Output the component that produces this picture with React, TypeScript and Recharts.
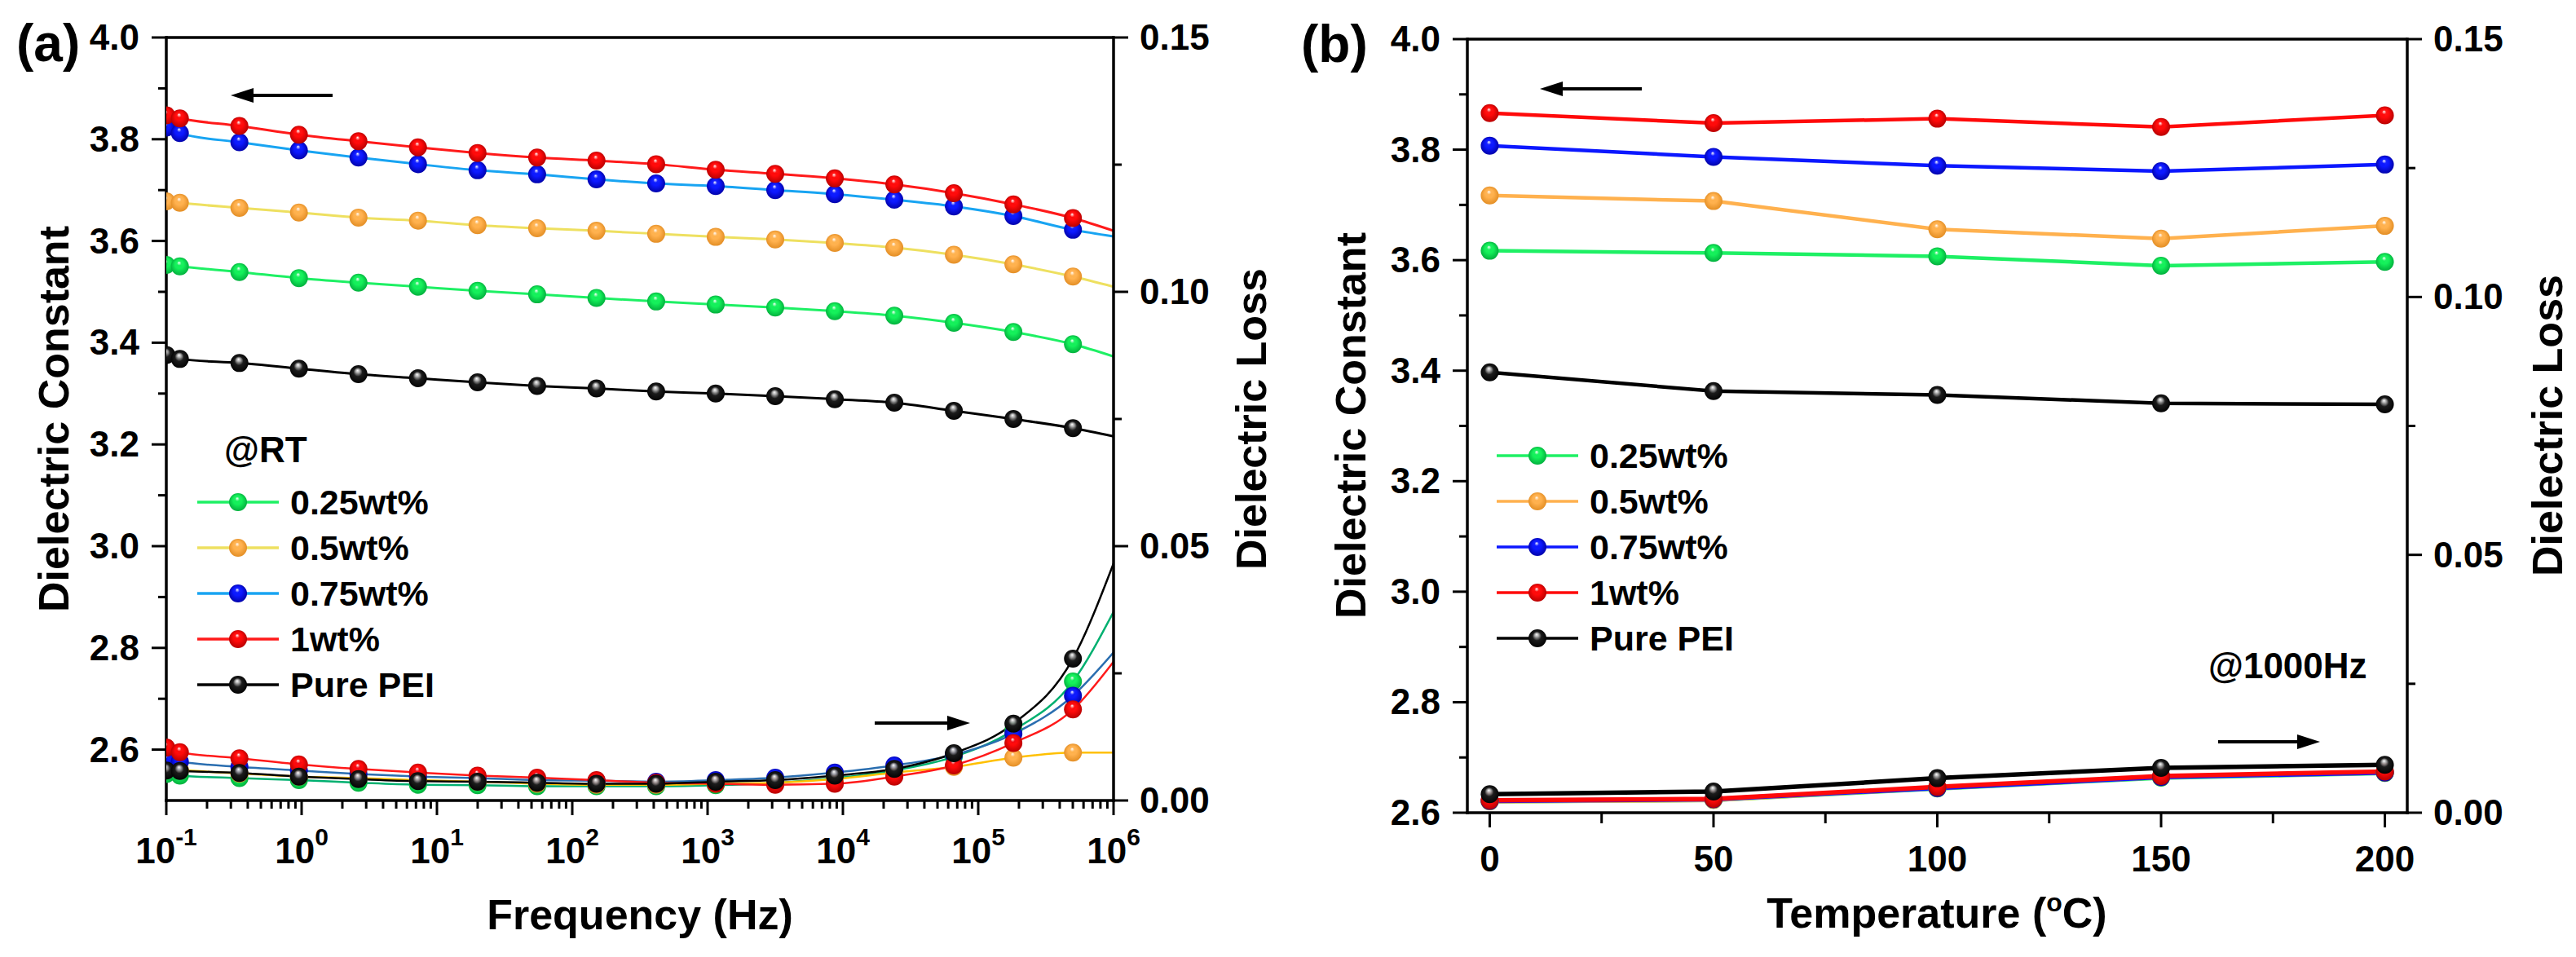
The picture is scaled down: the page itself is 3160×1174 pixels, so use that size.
import React from 'react';
import { LineChart, Line, XAxis, YAxis, ReferenceLine } from 'recharts';

const FONT = '"Liberation Sans", Arial, Helvetica, sans-serif';

// ---------- (a) frequency sweep at room temperature ----------
// last entry is the end of the sweep (drawn without a symbol)
const freqHz = [0.1, 0.126, 0.347, 0.955, 2.63, 7.24, 19.95, 55, 151, 417, 1148, 3162, 8710, 23990, 66070, 181970, 501190, 1000000];

const epsRT025 = [3.553, 3.55, 3.539, 3.527, 3.518, 3.51, 3.502, 3.495, 3.488, 3.481, 3.475, 3.469, 3.462, 3.453, 3.439, 3.421, 3.397, 3.373];
const epsRT05 = [3.678, 3.675, 3.665, 3.656, 3.646, 3.64, 3.631, 3.625, 3.62, 3.614, 3.608, 3.603, 3.596, 3.587, 3.573, 3.554, 3.53, 3.51];
const epsRT075 = [3.823, 3.812, 3.794, 3.778, 3.764, 3.751, 3.739, 3.731, 3.721, 3.713, 3.708, 3.7, 3.692, 3.681, 3.668, 3.649, 3.622, 3.609];
const epsRT1 = [3.847, 3.841, 3.826, 3.809, 3.796, 3.784, 3.773, 3.764, 3.758, 3.751, 3.74, 3.732, 3.723, 3.711, 3.694, 3.672, 3.645, 3.62];
const epsRTPEI = [3.376, 3.368, 3.36, 3.349, 3.338, 3.33, 3.322, 3.315, 3.31, 3.304, 3.3, 3.295, 3.289, 3.282, 3.266, 3.25, 3.232, 3.216];

const lossRT025 = [0.0052, 0.0049, 0.0044, 0.004, 0.0035, 0.0031, 0.003, 0.0028, 0.0028, 0.0028, 0.003, 0.0035, 0.0044, 0.0059, 0.0086, 0.0138, 0.0234, 0.0371];
const lossRT05 = [0.0062, 0.006, 0.0053, 0.0047, 0.0044, 0.004, 0.0037, 0.0033, 0.0031, 0.0031, 0.0033, 0.0035, 0.0042, 0.0055, 0.0066, 0.0084, 0.0094, 0.0094];
const lossRT075 = [0.008, 0.0076, 0.0066, 0.0059, 0.0052, 0.0047, 0.0044, 0.004, 0.0039, 0.0037, 0.004, 0.0045, 0.0055, 0.0069, 0.009, 0.0131, 0.0206, 0.0291];
const lossRT1 = [0.0104, 0.0095, 0.0083, 0.0071, 0.0062, 0.0055, 0.0049, 0.0045, 0.004, 0.0035, 0.0033, 0.0031, 0.0033, 0.0047, 0.0069, 0.0113, 0.0179, 0.0273];
const lossRTPEI = [0.0059, 0.0058, 0.0054, 0.0047, 0.0042, 0.0038, 0.0037, 0.0035, 0.0033, 0.0033, 0.0037, 0.004, 0.0049, 0.0062, 0.0093, 0.0151, 0.0279, 0.0466];

// ---------- (b) temperature sweep at 1000 Hz ----------
const tempC = [0, 50, 100, 150, 200];

const epsT025 = [3.617, 3.613, 3.607, 3.59, 3.597];
const epsT05 = [3.717, 3.707, 3.656, 3.639, 3.662];
const epsT075 = [3.807, 3.787, 3.771, 3.761, 3.773];
const epsT1 = [3.866, 3.848, 3.856, 3.841, 3.862];
const epsTPEI = [3.397, 3.363, 3.356, 3.341, 3.339];

const lossT025 = [0.0022, 0.0025, 0.0047, 0.0068, 0.0077];
const lossT05 = [0.0022, 0.0025, 0.0048, 0.0069, 0.0078];
const lossT075 = [0.0023, 0.0026, 0.0048, 0.0069, 0.0078];
const lossT1 = [0.0024, 0.0027, 0.005, 0.0071, 0.008];
const lossTPEI = [0.0036, 0.0041, 0.0067, 0.0087, 0.0093];

// ---------- series + axis labels ----------
const seriesNames = ['0.25wt%', '0.5wt%', '0.75wt%', '1wt%', 'Pure PEI'];
const epsRT = [epsRT025, epsRT05, epsRT075, epsRT1, epsRTPEI];
const lossRT = [lossRT025, lossRT05, lossRT075, lossRT1, lossRTPEI];
const epsT = [epsT025, epsT05, epsT075, epsT1, epsTPEI];
const lossT = [lossT025, lossT05, lossT075, lossT1, lossTPEI];

const freqExponents = [-1, 0, 1, 2, 3, 4, 5, 6];
const epsTicks = [2.6, 2.7, 2.8, 2.9, 3.0, 3.1, 3.2, 3.3, 3.4, 3.5, 3.6, 3.7, 3.8, 3.9, 4.0];
const epsLabels = ['2.6', '2.8', '3.0', '3.2', '3.4', '3.6', '3.8', '4.0'];
const lossTicks = [0, 0.025, 0.05, 0.075, 0.1, 0.125, 0.15];
const lossLabels = ['0.00', '0.05', '0.10', '0.15'];
const tempTicks = [0, 25, 50, 75, 100, 125, 150, 175, 200];
const tempLabels = ['0', '50', '100', '150', '200'];

// symbol colours (sphere base / rim) and line colours
const ballBase = ['#14f05a', '#ffb14e', '#0c18ff', '#ff0a0a', '#1c1c1c'];
const ballRim = ['#00a83a', '#e08a20', '#0000a0', '#b00000', '#000000'];
const epsLineRT = ['#1ef064', '#eee060', '#18a4f2', '#ff1a1a', '#000000'];
const lossLineRT = ['#00b070', '#ffc000', '#2a6eb0', '#ff1a1a', '#000000'];
const lineT = ['#1ef064', '#ffb14e', '#0c18ff', '#ff0a0a', '#000000'];

const freqMinor: number[] = [];
freqExponents.slice(0, -1).forEach((e) => {
  for (let k = 2; k <= 9; k++) freqMinor.push(k * Math.pow(10, e));
});
const freqTicks = [...freqExponents.map((e) => Math.pow(10, e)), ...freqMinor].sort((a, b) => a - b);

const rowsRT = freqHz.map((f, i) => {
  const row: Record<string, number> = { f };
  seriesNames.forEach((_, k) => {
    row[`e${k}`] = epsRT[k][i];
    row[`l${k}`] = lossRT[k][i];
  });
  return row;
});

const rowsT = tempC.map((t, i) => {
  const row: Record<string, number> = { t };
  seriesNames.forEach((_, k) => {
    row[`e${k}`] = epsT[k][i];
    row[`l${k}`] = lossT[k][i];
  });
  return row;
});

const MAJOR = 18;
const MINOR = 10;
const TICK_W = 3;
const AXIS = { stroke: '#000', strokeWidth: 3.5, strokeLinecap: 'square' as const };
const txt = { fontFamily: FONT, fontWeight: 700, fill: '#000' };

const near = (a: number, b: number) => Math.abs(a - b) < 1e-6;

const leftTick = (labels: string[]) => (p: any) => {
  const { x, y, payload } = p;
  const lab = labels.find((s) => near(parseFloat(s), payload.value));
  return (
    <g>
      <line x1={x} y1={y} x2={x - (lab ? MAJOR : MINOR)} y2={y} stroke="#000" strokeWidth={TICK_W} />
      {lab && (
        <text x={x - 33} y={y + 15} textAnchor="end" fontSize={44} {...txt}>{lab}</text>
      )}
    </g>
  );
};

const rightTick = (labels: string[]) => (p: any) => {
  const { x, y, payload } = p;
  const lab = labels.find((s) => near(parseFloat(s), payload.value));
  return (
    <g>
      <line x1={x} y1={y} x2={x + (lab ? MAJOR : MINOR)} y2={y} stroke="#000" strokeWidth={TICK_W} />
      {lab && (
        <text x={x + 32} y={y + 15} textAnchor="start" fontSize={44} {...txt}>{lab}</text>
      )}
    </g>
  );
};

const freqTick = (p: any) => {
  const { x, y, payload } = p;
  const lg = Math.log10(payload.value);
  const e = freqExponents.find((n) => Math.abs(n - lg) < 1e-6);
  const major = e !== undefined;
  return (
    <g>
      <line x1={x} y1={y} x2={x} y2={y + (major ? MAJOR : MINOR)} stroke="#000" strokeWidth={TICK_W} />
      {major && (
        <text x={x} y={y + 77} textAnchor="middle" fontSize={44} {...txt}>
          10<tspan dy={-22} fontSize={30}>{String(e)}</tspan>
        </text>
      )}
    </g>
  );
};

const tempTick = (p: any) => {
  const { x, y, payload } = p;
  const lab = tempLabels.find((s) => near(parseFloat(s), payload.value));
  return (
    <g>
      <line x1={x} y1={y} x2={x} y2={y + (lab ? MAJOR : 13)} stroke="#000" strokeWidth={TICK_W} />
      {lab && (
        <text x={x} y={y + 72} textAnchor="middle" fontSize={44} {...txt}>{lab}</text>
      )}
    </g>
  );
};

// shaded sphere symbol; the sweep end point gets none
const ball = (k: number, r: number, skip: number) => (p: any) => {
  const { cx, cy, index } = p;
  if (index === skip || cx == null || cy == null) return <g key={`b${k}-${index}`} />;
  return <circle key={`b${k}-${index}`} cx={cx} cy={cy} r={r} fill={`url(#ball${k})`} />;
};

function Arrow({ x1, x2, y }: { x1: number; x2: number; y: number }) {
  const dir = x2 > x1 ? 1 : -1;
  const base = x2 - dir * 28;
  return (
    <g>
      <line x1={x1} y1={y} x2={base} y2={y} stroke="#000" strokeWidth={4} />
      <polygon points={`${x2},${y} ${base},${y - 9} ${base},${y + 9}`} fill="#000" />
    </g>
  );
}

function Legend({ x, y0, lineColors }: { x: number; y0: number; lineColors: string[] }) {
  return (
    <g>
      {seriesNames.map((name, k) => {
        const y = y0 + 56 * k;
        return (
          <g key={name}>
            <line x1={x} y1={y} x2={x + 100} y2={y} stroke={lineColors[k]} strokeWidth={3.5} />
            <circle cx={x + 50} cy={y} r={11} fill={`url(#ball${k})`} />
            <text x={x + 114} y={y + 15} fontSize={43} {...txt}>{name}</text>
          </g>
        );
      })}
    </g>
  );
}

export default function App() {
  const lastRT = freqHz.length - 1;
  return (
    <div style={{ position: 'absolute', left: 0, top: 0, width: 3160, height: 1174, background: '#fff', overflow: 'hidden' }}>
      <svg width={0} height={0} style={{ position: 'absolute' }}>
        <defs>
          {ballBase.map((c, k) => (
            <radialGradient key={k} id={`ball${k}`} cx="50%" cy="50%" r="55%" fx="45%" fy="28%">
              <stop offset="0%" stopColor="#ffffff" />
              <stop offset="22%" stopColor={k === 4 ? '#9a9a9a' : c} stopOpacity={0.95} />
              <stop offset="45%" stopColor={c} />
              <stop offset="100%" stopColor={ballRim[k]} />
            </radialGradient>
          ))}
        </defs>
      </svg>

      {/* (a) dielectric constant and loss vs frequency */}
      <div style={{ position: 'absolute', left: 0, top: 0 }}>
        <LineChart width={1580} height={1174} data={rowsRT} margin={{ top: 46, right: 0, bottom: 0, left: 0 }}>
          <XAxis
            dataKey="f" type="number" scale="log" domain={[0.1, 1000000]} allowDataOverflow
            ticks={freqTicks} interval={0} height={192} tickSize={0} tickMargin={0}
            tickLine={false} axisLine={AXIS} tick={freqTick}
          />
          <YAxis
            yAxisId="eps" orientation="left" width={204} type="number" domain={[2.5, 4.0]} allowDataOverflow
            ticks={epsTicks} interval={0} tickSize={0} tickMargin={0} tickLine={false} axisLine={AXIS}
            tick={leftTick(epsLabels)}
          />
          <YAxis
            yAxisId="loss" orientation="right" width={214} type="number" domain={[0, 0.15]} allowDataOverflow
            ticks={lossTicks} interval={0} tickSize={0} tickMargin={0} tickLine={false} axisLine={AXIS}
            tick={rightTick(lossLabels)}
          />
          <ReferenceLine yAxisId="eps" y={4.0} stroke="#000" strokeWidth={3.5} />
          {seriesNames.map((name, k) => (
            <Line
              key={`l${k}`} yAxisId="loss" dataKey={`l${k}`} name={name} type="monotone"
              stroke={lossLineRT[k]} strokeWidth={2.5} dot={ball(k, 11, lastRT)} activeDot={false}
              isAnimationActive={false}
            />
          ))}
          {seriesNames.map((name, k) => (
            <Line
              key={`e${k}`} yAxisId="eps" dataKey={`e${k}`} name={name} type="monotone"
              stroke={epsLineRT[k]} strokeWidth={3} dot={ball(k, 11, lastRT)} activeDot={false}
              isAnimationActive={false}
            />
          ))}
        </LineChart>
      </div>

      {/* (b) dielectric constant and loss vs temperature */}
      <div style={{ position: 'absolute', left: 1580, top: 0 }}>
        <LineChart width={1580} height={1174} data={rowsT} margin={{ top: 48, right: 0, bottom: 0, left: 0 }}>
          <XAxis
            dataKey="t" type="number" domain={[-5, 205]} allowDataOverflow
            ticks={tempTicks} interval={0} height={177} tickSize={0} tickMargin={0}
            tickLine={false} axisLine={AXIS} tick={tempTick}
          />
          <YAxis
            yAxisId="eps" orientation="left" width={220} type="number" domain={[2.6, 4.0]} allowDataOverflow
            ticks={epsTicks} interval={0} tickSize={0} tickMargin={0} tickLine={false} axisLine={AXIS}
            tick={leftTick(epsLabels)}
          />
          <YAxis
            yAxisId="loss" orientation="right" width={207} type="number" domain={[0, 0.15]} allowDataOverflow
            ticks={lossTicks} interval={0} tickSize={0} tickMargin={0} tickLine={false} axisLine={AXIS}
            tick={rightTick(lossLabels)}
          />
          <ReferenceLine yAxisId="eps" y={4.0} stroke="#000" strokeWidth={3.5} />
          {seriesNames.map((name, k) => (
            <Line
              key={`l${k}`} yAxisId="loss" dataKey={`l${k}`} name={name} type="linear"
              stroke={lineT[k]} strokeWidth={5.5} dot={ball(k, 11, -1)} activeDot={false}
              isAnimationActive={false}
            />
          ))}
          {seriesNames.map((name, k) => (
            <Line
              key={`e${k}`} yAxisId="eps" dataKey={`e${k}`} name={name} type="linear"
              stroke={lineT[k]} strokeWidth={4.5} dot={ball(k, 11, -1)} activeDot={false}
              isAnimationActive={false}
            />
          ))}
        </LineChart>
      </div>

      {/* titles, annotations and legends */}
      <svg width={3160} height={1174} style={{ position: 'absolute', left: 0, top: 0, pointerEvents: 'none' }}>
        <text x={20} y={75} fontSize={64} {...txt}>(a)</text>
        <text x={1596} y={76} fontSize={64} {...txt}>(b)</text>

        <text transform="translate(84,514) rotate(-90)" textAnchor="middle" fontSize={52} {...txt}>Dielectric Constant</text>
        <text transform="translate(1553,514) rotate(-90)" textAnchor="middle" fontSize={52} {...txt}>Dielectric Loss</text>
        <text x={785} y={1140} textAnchor="middle" fontSize={52} {...txt}>Frequency (Hz)</text>

        <text transform="translate(1675,522) rotate(-90)" textAnchor="middle" fontSize={52} {...txt}>Dielectric Constant</text>
        <text transform="translate(3143,522) rotate(-90)" textAnchor="middle" fontSize={52} {...txt}>Dielectric Loss</text>
        <text x={2376} y={1138} textAnchor="middle" fontSize={52} {...txt}>
          Temperature (<tspan dy={-20} fontSize={32}>o</tspan><tspan dy={20}>C)</tspan>
        </text>

        <Arrow x1={408} x2={283} y={117} />
        <Arrow x1={1073} x2={1190} y={887} />
        <Arrow x1={2014} x2={1889} y={109} />
        <Arrow x1={2721} x2={2846} y={910} />

        <text x={275} y={567} fontSize={44} {...txt}>@RT</text>
        <text x={2709} y={832} fontSize={44} {...txt}>@1000Hz</text>

        <Legend x={242} y0={616} lineColors={epsLineRT} />
        <Legend x={1836} y0={559} lineColors={lineT} />
      </svg>
    </div>
  );
}
